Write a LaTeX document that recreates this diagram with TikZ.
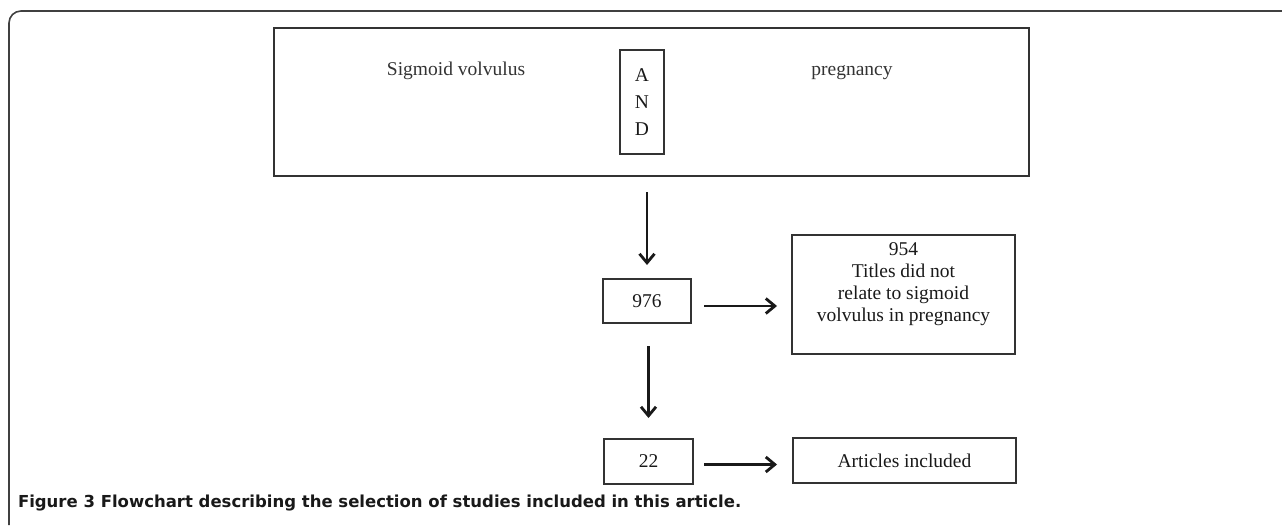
\documentclass[tikz,border=0pt]{standalone}
\usepackage{fontspec}
\setmainfont{Liberation Serif}
\newfontfamily\capfont{DejaVu Sans}
\usetikzlibrary{arrows.meta}

\begin{document}
\begin{tikzpicture}[x=1pt, y=-1pt,
    every node/.style={font=\fontsize{19.5}{22}\selectfont, text=black!80, outer sep=0pt},
    box/.style={draw=black!80, line width=1.3pt, inner sep=0pt, align=center},
    arr/.style={draw=black!90, line width=2.8pt, -{Straight Barb[length=9pt, width=15pt]}}]
    \useasboundingbox (0,0) rectangle (1282,525);

    % Frame
    \draw[black!75, line width=1.6pt, rounded corners=12pt] (9,525) |- (1282,11);

    % Search box
    \node[box, minimum width=755, minimum height=148] (search) at (651.5,102) {};
    \node[anchor=base] (sigmoid) at (456,75) {Sigmoid volvulus};
    \node[anchor=base] (preg) at (852,75) {pregnancy};
    \node[box, minimum width=44, minimum height=104, font=\fontsize{19.5}{27}\selectfont, text=black!90] (and) at (642,102) {A\\N\\D};

    % Counts
    \node[box, minimum width=88, minimum height=44, text=black!90] (n976) at (647,301) {976};
    \node[box, minimum width=223, minimum height=119, text=black!90] (n954) at (903.5,294.5)
        {954\\Titles did not\\relate to sigmoid\\volvulus in pregnancy\\[3pt]};
    \node[box, minimum width=89, minimum height=45, text=black!90] (n22) at (648.5,461.5) {22};
    \node[box, minimum width=223, minimum height=45, text=black!90] (incl) at (904.5,460.5) {Articles included};

    % Arrows
    \draw[arr, shorten <=16pt, shorten >=14pt] (n976.north |- search.south) -- (n976.north);
    \draw[arr, shorten <=13pt, shorten >=15pt] ([yshift=-5pt]n976.east) -- ([yshift=-5pt]n954.west |- n976.east);
    \draw[arr, shorten <=23pt, shorten >=21pt] (n22.north |- n976.south) -- (n22.north);
    \draw[arr, shorten <=11pt, shorten >=16pt] ([yshift=-3pt]n22.east) -- ([yshift=-3pt]incl.west |- n22.east);

    % Caption
    \node[anchor=base west, font=\capfont\bfseries\fontsize{16.5}{18}\selectfont, text=black!90, inner sep=0pt] (caption) at (18,507)
        {Figure 3 Flowchart describing the selection of studies included in this article.};
\end{tikzpicture}
\end{document}
